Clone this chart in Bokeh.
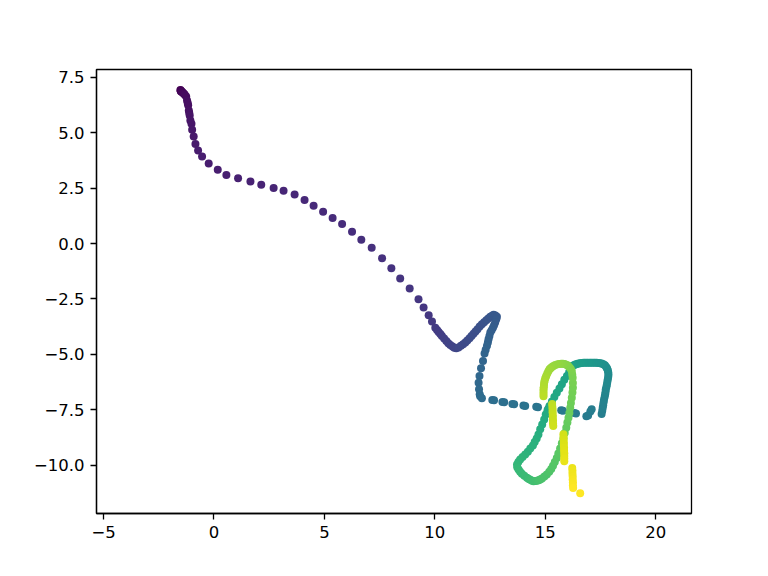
from bokeh.plotting import figure
from bokeh.models import ColumnDataSource, Range1d, FixedTicker, CustomJSTickFormatter
from bokeh.transform import linear_cmap
from bokeh.palettes import Viridis256
from bokeh.embed import file_html
from bokeh.resources import INLINE

# ---- trajectory data, in time order ----
start_x = [-1.52, -1.51, -1.50, -1.48, -1.46, -1.43, -1.40, -1.36, -1.32]
start_y = [6.93, 6.91, 6.88, 6.87, 6.85, 6.83, 6.80, 6.76, 6.72]

descent_x = [-1.26, -1.22, -1.19, -1.17, -1.14, -1.12, -1.10, -1.07, -1.02, -0.99,
             -0.92, -0.84, -0.72, -0.54, -0.24, 0.17, 0.56]
descent_y = [6.64, 6.46, 6.35, 6.24, 6.01, 5.90, 5.78, 5.56, 5.41, 5.14,
             4.83, 4.50, 4.20, 3.93, 3.62, 3.33, 3.10]

diag_x = [1.09, 1.65, 2.14, 2.70, 3.15, 3.65, 4.10, 4.51, 4.94, 5.37, 5.80, 6.25,
          6.67, 7.14, 7.61, 8.03, 8.43, 8.86, 9.26, 9.49, 9.72, 9.87, 10.02, 10.10,
          10.17, 10.25, 10.32, 10.42, 10.52, 10.61, 10.70, 10.80, 10.88, 10.97]
diag_y = [2.95, 2.80, 2.65, 2.51, 2.38, 2.21, 1.97, 1.71, 1.44, 1.15, 0.88, 0.53,
          0.17, -0.19, -0.66, -1.11, -1.58, -2.03, -2.51, -2.89, -3.24, -3.52, -3.80, -3.90,
          -3.99, -4.08, -4.17, -4.29, -4.40, -4.50, -4.58, -4.65, -4.70, -4.73]

rise_x = [11.07, 11.18, 11.28, 11.38, 11.47, 11.57, 11.66, 11.75, 11.84, 11.93,
          12.03, 12.13, 12.23, 12.33, 12.42, 12.51, 12.59, 12.66, 12.74, 12.81]
rise_y = [-4.69, -4.62, -4.55, -4.47, -4.38, -4.28, -4.18, -4.07, -3.97, -3.87,
          -3.75, -3.64, -3.55, -3.46, -3.38, -3.31, -3.26, -3.22, -3.25, -3.31]

leg_x = [12.78, 12.73, 12.68, 12.63, 12.57, 12.51, 12.47, 12.43, 12.40, 12.36,
         12.30, 12.25, 12.18, 12.09, 12.02, 11.98, 12.00, 12.03, 12.05, 12.13]
leg_y = [-3.42, -3.57, -3.69, -3.80, -3.91, -4.02, -4.17, -4.32, -4.47, -4.62,
         -4.80, -4.97, -5.30, -5.63, -5.98, -6.28, -6.58, -6.80, -6.89, -6.99]

flat_x = [12.60, 12.68, 13.06, 13.14, 13.51, 13.59, 14.01, 14.09, 14.59, 14.67,
          15.14, 15.22, 15.72, 15.80, 16.31, 16.39, 16.86, 16.94, 17.04, 17.10]
flat_y = [-7.06, -7.08, -7.15, -7.17, -7.24, -7.26, -7.31, -7.33, -7.37, -7.39,
          -7.46, -7.48, -7.53, -7.55, -7.65, -7.67, -7.80, -7.76, -7.58, -7.48]

right_x = [17.55, 17.58, 17.60, 17.62, 17.64, 17.66, 17.69, 17.71, 17.73, 17.74,
           17.77, 17.79, 17.81, 17.83, 17.85, 17.86, 17.85, 17.83, 17.80, 17.76,
           17.70, 17.63, 17.55, 17.48, 17.40, 17.33, 17.25, 17.18, 17.10, 17.03,
           16.95, 16.88, 16.80, 16.73, 16.65, 16.58, 16.50, 16.43, 16.36, 16.29, 16.22]
right_y = [-7.70, -7.55, -7.42, -7.30, -7.17, -7.04, -6.92, -6.81, -6.69, -6.58,
           -6.47, -6.36, -6.24, -6.13, -6.02, -5.91, -5.81, -5.72, -5.64, -5.57,
           -5.50, -5.45, -5.42, -5.41, -5.39, -5.38, -5.38, -5.38, -5.38, -5.38,
           -5.38, -5.38, -5.38, -5.38, -5.39, -5.41, -5.42, -5.44, -5.46, -5.50, -5.53]

down_x = [16.16, 16.08, 15.98, 15.86, 15.75, 15.64, 15.52, 15.41, 15.30, 15.19,
          15.10, 15.02, 14.95, 14.86, 14.77, 14.69, 14.61, 14.52, 14.44, 14.32,
          14.21, 14.09, 13.97, 13.86, 13.78, 13.72, 13.73, 13.79, 13.86, 13.94,
          14.05, 14.17, 14.25, 14.32, 14.40, 14.47, 14.55, 14.62, 14.70, 14.77]
down_y = [-5.64, -5.81, -5.98, -6.15, -6.35, -6.54, -6.74, -6.93, -7.13, -7.33,
          -7.53, -7.72, -7.95, -8.17, -8.39, -8.62, -8.80, -8.96, -9.12, -9.26,
          -9.40, -9.53, -9.64, -9.75, -9.86, -9.98, -10.10, -10.20, -10.30, -10.40,
          -10.49, -10.58, -10.63, -10.67, -10.71, -10.73, -10.72, -10.71, -10.69, -10.66]

up_x = [14.85, 14.96, 15.07, 15.18, 15.27, 15.35, 15.43, 15.52, 15.59, 15.67,
        15.75, 15.82, 15.88, 15.95, 16.00, 16.05, 16.09, 16.13, 16.16, 16.20,
        16.23, 16.25, 16.25, 16.24, 16.22, 16.20, 16.15, 16.08,
        16.02, 15.95, 15.87, 15.80, 15.72, 15.64, 15.56, 15.45, 15.37, 15.30,
        15.24, 15.19, 15.14, 15.09, 15.04, 15.00, 14.97, 14.95, 14.94, 14.93,
        14.92, 14.92, 14.92, 14.92]
up_y = [-10.61, -10.52, -10.43, -10.30, -10.18, -10.03, -9.86, -9.68, -9.48, -9.25,
        -9.02, -8.80, -8.55, -8.32, -8.08, -7.87, -7.65, -7.42, -7.20, -6.96,
        -6.73, -6.51, -6.30, -6.06, -5.91, -5.76, -5.65, -5.57,
        -5.51, -5.47, -5.44, -5.43, -5.43, -5.44, -5.45, -5.48, -5.53, -5.58,
        -5.63, -5.68, -5.77, -5.87, -5.98, -6.08, -6.19, -6.29, -6.39, -6.49,
        -6.58, -6.69, -6.79, -6.89]

tail1_x = [15.31, 15.32, 15.33, 15.33, 15.34, 15.34, 15.35, 15.35, 15.36]
tail1_y = [-7.25, -7.38, -7.50, -7.62, -7.75, -7.87, -7.99, -8.12, -8.24]

tail2_x = [15.82, 15.83, 15.83, 15.84, 15.84, 15.85, 15.85, 15.86, 15.86, 15.86, 15.86]
tail2_y = [-8.61, -8.73, -8.85, -8.98, -9.10, -9.22, -9.34, -9.47, -9.59, -9.71, -9.83]

tail3_x = [16.22, 16.23, 16.23, 16.24, 16.24, 16.25, 16.25, 16.26, 16.58]
tail3_y = [-10.13, -10.26, -10.39, -10.52, -10.65, -10.78, -10.91, -11.04, -11.28]

x_ticks = [-5, 0, 5, 10, 15, 20]
y_ticks = [-10, -7.5, -5, -2.5, 0, 2.5, 5, 7.5]

# ---- assemble ----
xs = (start_x + descent_x + diag_x + rise_x + leg_x + flat_x + right_x + down_x
      + up_x + tail1_x + tail2_x + tail3_x)
ys = (start_y + descent_y + diag_y + rise_y + leg_y + flat_y + right_y + down_y
      + up_y + tail1_y + tail2_y + tail3_y)
order = list(range(len(xs)))
n = len(xs)

src = ColumnDataSource(dict(x=xs, y=ys, t=order))

p = figure(width=752, height=560, output_backend="svg", toolbar_location=None,
           x_range=Range1d(-5.32, 21.62), y_range=Range1d(-12.19, 7.86),
           min_border_left=96, min_border_right=61, min_border_top=69, min_border_bottom=47)

cmap = linear_cmap("t", Viridis256, 0, n - 1)
p.scatter("x", "y", source=src, size=8, fill_color=cmap, line_color=cmap, line_width=0)

p.grid.visible = False
p.outline_line_color = "black"
p.outline_line_width = 1.3
p.background_fill_color = "white"
p.border_fill_color = "white"

p.xaxis.ticker = FixedTicker(ticks=x_ticks)
p.yaxis.ticker = FixedTicker(ticks=y_ticks)
p.xaxis.formatter = CustomJSTickFormatter(code="return (tick < 0 ? '\u2212' : '') + Math.abs(tick).toFixed(0);")
p.yaxis.formatter = CustomJSTickFormatter(code="return (tick < 0 ? '\u2212' : '') + Math.abs(tick).toFixed(1);")

for ax in (p.xaxis[0], p.yaxis[0]):
    ax.axis_line_color = "black"
    ax.axis_line_width = 1.3
    ax.major_tick_line_color = "black"
    ax.major_tick_line_width = 1.3
    ax.major_tick_in = 0
    ax.major_tick_out = 6
    ax.minor_tick_line_color = None
    ax.major_label_text_font = "DejaVu Sans"
    ax.major_label_text_font_size = "16.5px"
    ax.major_label_text_color = "black"
    ax.major_label_standoff = 6

open("out.html", "w").write(file_html(p, INLINE))
